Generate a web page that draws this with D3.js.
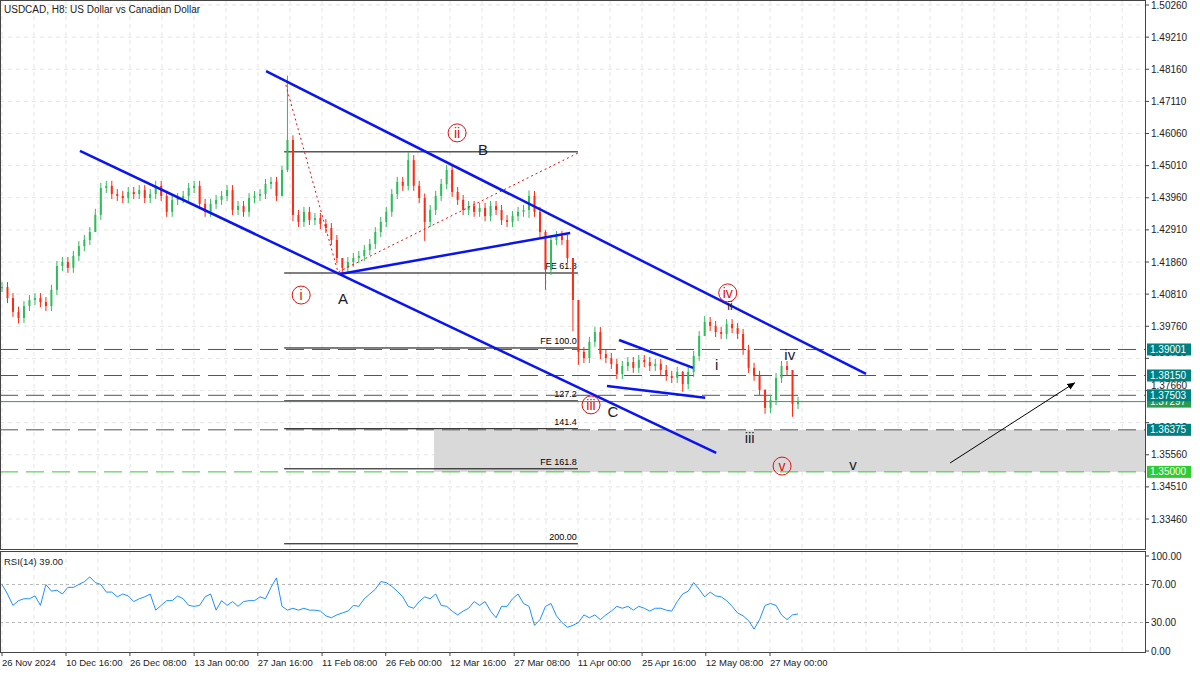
<!DOCTYPE html>
<html><head><meta charset="utf-8">
<script src="https://cdn.jsdelivr.net/npm/d3@7"></script>
<style>
body{margin:0;background:#fff}
text{font-family:"Liberation Sans",Arial,sans-serif}
</style></head><body>
<svg id="c" width="1200" height="675"></svg>
<script>
// daily closes (one per trading day, from 26 Nov 2024)
const closes = [1.4104,1.4068,1.4023,1.4003,1.4042,1.4062,1.4068,1.4055,1.4042,1.4095,
1.4173,1.4186,1.4167,1.4206,1.4238,1.4258,1.4284,1.4340,1.4428,1.4435,
1.4408,1.4402,1.4395,1.4415,1.4408,1.4421,1.4395,1.4408,1.4435,1.4402,
1.4350,1.4389,1.4395,1.4402,1.4428,1.4435,1.4376,1.4350,1.4376,1.4389,
1.4402,1.4421,1.4356,1.4369,1.4350,1.4395,1.4402,1.4408,1.4441,1.4448,
1.4402,1.4487,1.4585,1.4340,1.4317,1.4350,1.4323,1.4330,1.4310,1.4297,
1.4258,1.4199,1.4167,1.4186,1.4199,1.4206,1.4225,1.4245,1.4284,1.4317,
1.4350,1.4408,1.4448,1.4435,1.4519,1.4435,1.4395,1.4317,1.4356,1.4402,
1.4441,1.4487,1.4415,1.4389,1.4356,1.4369,1.4350,1.4363,1.4336,1.4369,
1.4356,1.4323,1.4317,1.4336,1.4350,1.4356,1.4402,1.4350,1.4284,1.4160,
1.4258,1.4271,1.4258,1.4199,1.4062,1.3892,1.3872,1.3925,1.3957,1.3885,
1.3872,1.3853,1.3820,1.3846,1.3859,1.3840,1.3866,1.3859,1.3846,1.3853,
1.3833,1.3814,1.3807,1.3827,1.3787,1.3827,1.3879,1.3944,1.3990,1.3977,
1.3957,1.3951,1.3983,1.3970,1.3951,1.3899,1.3840,1.3814,1.3768,1.3709,
1.3735,1.3807,1.3846,1.3833,1.3722,1.3729];
// notable wick extremes: [day index, high, low]
const wicks = [[3,1.4040,1.3985],[17,1.4360,1.4300],[51,1.4500,1.4400],[52,1.4795,1.4480],[53,1.4600,1.4320],
[62,1.4190,1.4140],[74,1.4545,1.4420],[77,1.4410,1.4255],[96,1.4420,1.4330],[99,1.4290,1.4095],
[104,1.4080,1.3960],[105,1.3920,1.3850],[124,1.3830,1.3762],[128,1.4010,1.3960],[139,1.3770,1.3690],[144,1.3780,1.3680]];
const rsi = [70,60,48,53,55,55,58,48,70,63,64,60,67,67,70,73,78,72,70,62,
62,57,60,58,52,55,57,60,43,48,53,53,58,55,48,47,48,57,60,43,
53,48,52,47,52,53,53,57,55,67,77,47,43,45,43,45,43,43,42,37,
35,38,40,42,48,47,55,60,65,73,72,68,63,57,47,45,52,57,55,60,
48,47,42,38,42,45,52,48,52,42,35,47,47,55,60,50,47,27,33,47,
50,37,30,25,27,30,38,35,38,33,38,42,47,45,47,43,47,45,42,45,
45,43,42,52,60,63,72,65,57,62,58,57,53,47,40,37,32,23,33,48,
50,48,38,33,38,39];
const timeLabels = ["26 Nov 2024","10 Dec 16:00","26 Dec 08:00","13 Jan 00:00","27 Jan 16:00","11 Feb 08:00","26 Feb 00:00","12 Mar 16:00","27 Mar 08:00","11 Apr 00:00","25 Apr 16:00","12 May 08:00","27 May 00:00"];
const timeTickDays = [0,11.66,23.3,35,46.6,58.3,69.9,81.6,93.3,104.9,116.6,128.2,139.9];
const priceTicks = [1.5026,1.4921,1.4816,1.4711,1.4606,1.4501,1.4396,1.4291,1.4186,1.4081,1.3976,1.3871,1.3766,1.3661,1.3556,1.3451,1.3346];
const levels = [1.39001,1.38150,1.37503,1.36375,1.35000];
const lastPrice = 1.37297;
const fibLevels = [1.4546,1.4150,1.3905,1.3732,1.3641,1.3510,1.3265];
const fibNames = ["","FE 61.8","FE 100.0","127.2","141.4","FE 161.8","200.00"];
const trendLines = [[48.1,1.4810,157.4,1.3820],[14.2,1.4549,130.1,1.3562],[61.6,1.4147,103.5,1.4281],[112.4,1.3931,125.9,1.3840],[110.2,1.3781,128.1,1.3742]];
const dotted = [[51.7,1.4765],[61.2,1.4153],[104.9,1.4542]];
const circleLabels = [["i",54.5,1.4078],["ii",82.9,1.4608],["iii",107.3,1.3719],["iv",132.2,1.4085],["v",142.1,1.3519]];
const waveLabels = [["A",62.1,1.4065],["B",87.6,1.4552],["C",111.3,1.3696],["i",130.2,1.3850],["ii",132.6,1.4046],["iii",136.2,1.3611],["iv",143.5,1.3882],["v",155,1.3523]];

const svg = d3.select('#c');
const W = 1145, bot = 549, rTop = 551, rBot = 652;
const x = d3.scaleLinear().domain([0, 145]).range([2, 798]);
const y = d3.scaleLinear().domain([1.5026, 1.3346]).range([5, 519]);
const ry = d3.scaleLinear().domain([100, 0]).range([556, 651]);
const grid = '#e4e4e4';

// grid
const gg = svg.append('g').attr('stroke', grid).attr('stroke-dasharray', '4,4');
priceTicks.forEach(p => gg.append('line').attr('x1', 0).attr('x2', W).attr('y1', y(p)).attr('y2', y(p)));
d3.range(0, 36).forEach(k => {
  const px = x(k * 5.83);
  if (px < W) {
    gg.append('line').attr('x1', px).attr('x2', px).attr('y1', 0).attr('y2', bot);
    gg.append('line').attr('x1', px).attr('x2', px).attr('y1', rTop).attr('y2', rBot);
  }
});
[70, 30].forEach(v => svg.append('line').attr('x1', 0).attr('x2', W).attr('y1', ry(v)).attr('y2', ry(v))
  .attr('stroke', '#b8b8b8').attr('stroke-dasharray', '3,3'));

// support zone
svg.append('rect').attr('x', x(78.7)).attr('width', W - x(78.7))
  .attr('y', y(levels[3])).attr('height', y(levels[4]) - y(levels[3])).attr('fill', '#d9d9d9');

// fibonacci lines
fibLevels.forEach((p, i) => {
  svg.append('line').attr('x1', x(51.4)).attr('x2', x(104.9)).attr('y1', y(p)).attr('y2', y(p)).attr('stroke', '#000');
  svg.append('text').attr('x', x(104.9) - 1).attr('y', y(p) - 4).attr('text-anchor', 'end')
    .attr('font-size', 9).text(fibNames[i]);
});

// horizontal levels
levels.forEach((p, i) => svg.append('line').attr('x1', 0).attr('x2', W).attr('y1', y(p)).attr('y2', y(p))
  .attr('stroke', i === 4 ? '#3c3' : '#555').attr('stroke-dasharray', '18,8'));
svg.append('line').attr('x1', 0).attr('x2', W).attr('y1', y(lastPrice)).attr('y2', y(lastPrice)).attr('stroke', '#3a9a4a');

// candles
const wickMap = new Map(wicks.map(w => [w[0], w]));
closes.forEach((c, i) => {
  const o = i ? closes[i - 1] : c;
  const col = c >= o ? '#2ebd5a' : '#ff2a14';
  const yt = y(Math.max(o, c)), yb = y(Math.min(o, c));
  const w = wickMap.get(i);
  const hi = w ? Math.min(y(w[1]), yt) : yt - 5, lo = w ? Math.max(y(w[2]), yb) : yb + 5;
  svg.append('line').attr('x1', x(i)).attr('x2', x(i)).attr('y1', hi).attr('y2', lo).attr('stroke', col);
  svg.append('rect').attr('x', x(i) - 1).attr('width', 2).attr('y', yt).attr('height', Math.max(1, yb - yt)).attr('fill', col);
});

// red dotted
svg.append('path').datum(dotted).attr('d', d3.line().x(d => x(d[0])).y(d => y(d[1])))
  .attr('fill', 'none').attr('stroke', '#e01010').attr('stroke-dasharray', '2,3');

// trend lines
trendLines.forEach(t => svg.append('line').attr('x1', x(t[0])).attr('y1', y(t[1])).attr('x2', x(t[2])).attr('y2', y(t[3]))
  .attr('stroke', '#0a14f0').attr('stroke-width', 2.5));

// arrow
svg.append('defs').append('marker').attr('id', 'ah').attr('viewBox', '0 0 10 10').attr('refX', 9).attr('refY', 5)
  .attr('markerWidth', 8).attr('markerHeight', 8).attr('orient', 'auto')
  .append('path').attr('d', 'M0,1 L10,5 L0,9 z').attr('fill', '#000');
svg.append('line').attr('x1', x(172.7)).attr('y1', y(1.3529)).attr('x2', x(195.4)).attr('y2', y(1.3791))
  .attr('stroke', '#000').attr('marker-end', 'url(#ah)');

// wave labels
circleLabels.forEach(l => {
  svg.append('circle').attr('cx', x(l[1])).attr('cy', y(l[2])).attr('r', 9).attr('fill', 'none').attr('stroke', '#e01010');
  svg.append('text').attr('x', x(l[1])).attr('y', y(l[2]) + 5).attr('text-anchor', 'middle')
    .attr('font-size', 14).attr('fill', '#e01010').text(l[0]);
});
waveLabels.forEach(l => svg.append('text').attr('x', x(l[1])).attr('y', y(l[2]) + 5).attr('text-anchor', 'middle')
  .attr('font-size', l[0] === 'ii' ? 12 : 15).attr('fill', '#1a1a2a').text(l[0]));

// RSI
svg.append('path').datum(rsi).attr('d', d3.line().x((d, i) => x(i * 145 / (rsi.length - 1))).y(d => ry(d)))
  .attr('fill', 'none').attr('stroke', '#1e90ff');

// frames
svg.append('rect').attr('x', 0.5).attr('y', 0.5).attr('width', W).attr('height', bot).attr('fill', 'none').attr('stroke', '#444');
svg.append('rect').attr('x', 0.5).attr('y', rTop + 0.5).attr('width', W).attr('height', rBot - rTop).attr('fill', 'none').attr('stroke', '#444');

// price axis
const ax = svg.append('g').attr('font-size', 10).attr('fill', '#222');
priceTicks.forEach(p => {
  ax.append('line').attr('x1', W).attr('x2', W + 4).attr('y1', y(p)).attr('y2', y(p)).attr('stroke', '#444');
  const near = [lastPrice, ...levels].some(l => Math.abs(y(l) - y(p)) < 11);
  ax.append('text').attr('x', W + 6).attr('y', y(p) + (near ? (y(p) < y(lastPrice) ? -2 : 8) : 3.5)).text(p.toFixed(5));
});
[[lastPrice, '#2e9b4a'], ...levels.map((p, i) => [p, i === 4 ? '#2ecc2e' : '#00807f'])].forEach(([p, col]) => {
  ax.append('rect').attr('x', W + 2).attr('y', y(p) - 6).attr('width', 44).attr('height', 12).attr('fill', col);
  ax.append('text').attr('x', W + 5).attr('y', y(p) + 3.5).attr('fill', '#fff').text(p.toFixed(5));
});
[[100, '100.00'], [70, '70.00'], [30, '30.00'], [0, '0.00']].forEach(([v, t]) => {
  ax.append('line').attr('x1', W).attr('x2', W + 4).attr('y1', ry(v)).attr('y2', ry(v)).attr('stroke', '#444');
  ax.append('text').attr('x', W + 6).attr('y', ry(v) + 3.5).text(t);
});

// time axis
timeLabels.forEach((t, i) => {
  const px = x(timeTickDays[i]);
  ax.append('line').attr('x1', px).attr('x2', px).attr('y1', rBot).attr('y2', rBot + 4).attr('stroke', '#444');
  ax.append('text').attr('x', px).attr('y', 666).attr('font-size', 9.5).text(t);
});

// titles
svg.append('text').attr('x', 4).attr('y', 13).attr('font-size', 10).attr('fill', '#222').text('USDCAD, H8:  US Dollar vs Canadian Dollar');
svg.append('text').attr('x', 4).attr('y', 565).attr('font-size', 9.5).attr('fill', '#222').text('RSI(14) 39.00');
</script></body></html>
